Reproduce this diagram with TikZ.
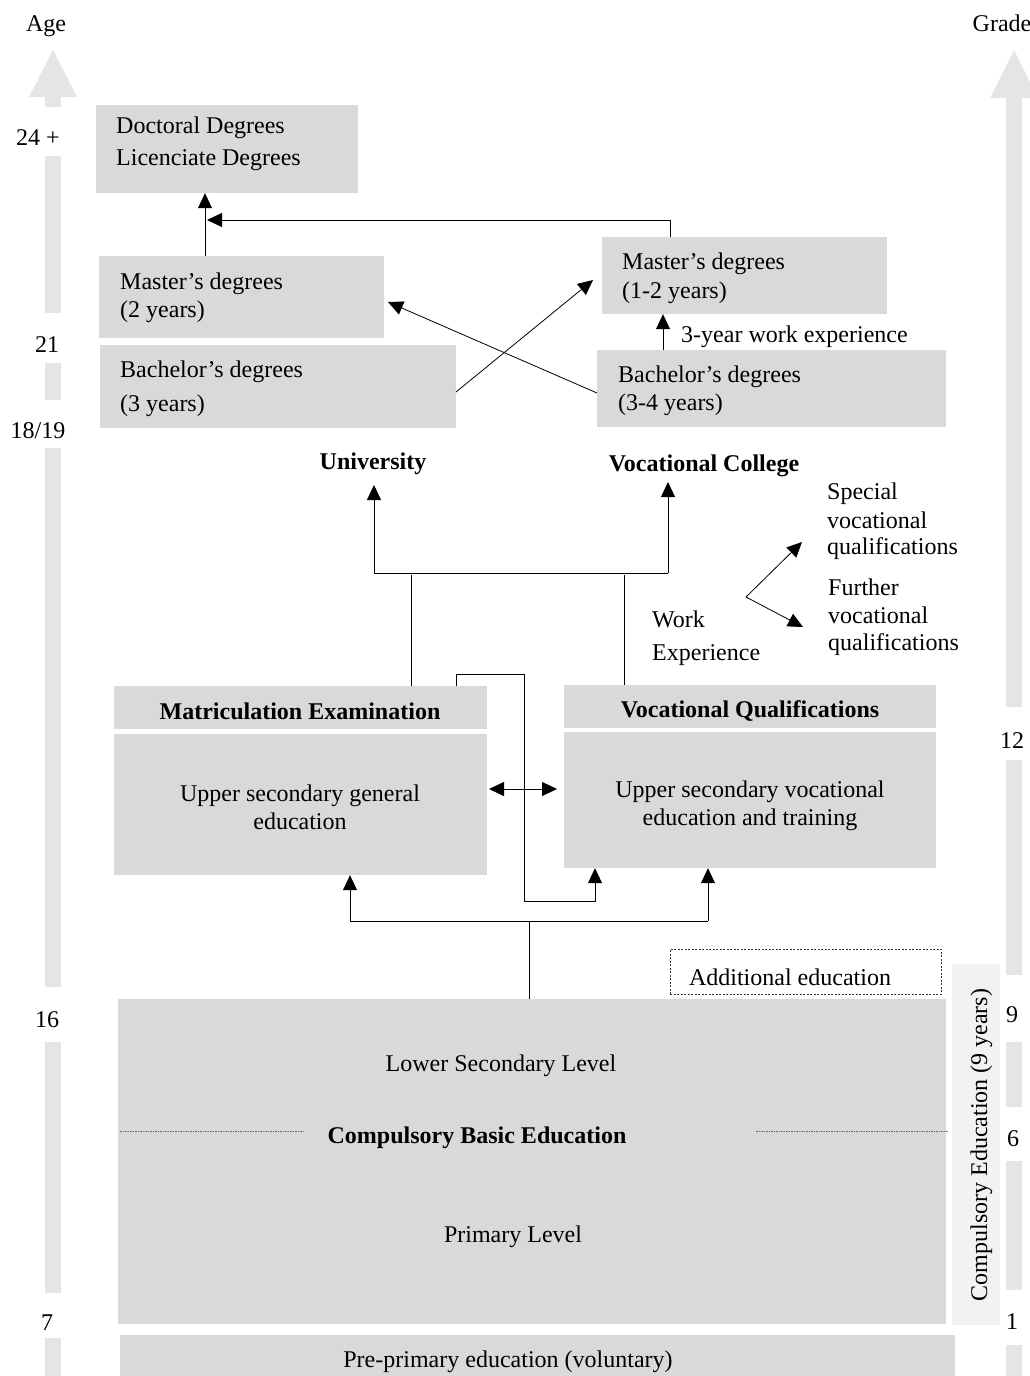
\documentclass[tikz,border=0pt]{standalone}
\usepackage{fontspec}
\setmainfont{Liberation Serif}
\usetikzlibrary{arrows.meta,calc}
\definecolor{boxgray}{HTML}{D9D9D9}
\definecolor{axisgray}{HTML}{E5E5E5}
\definecolor{palegray}{HTML}{F2F2F2}
\begin{document}
\begin{tikzpicture}[x=1pt,y=-1pt,
  every node/.style={font=\fontsize{24}{28}\selectfont, inner sep=0pt},
  gbox/.style={fill=boxgray, draw=none, rectangle},
  lbl/.style={anchor=base west},
  clbl/.style={anchor=base},
  bold/.style={font=\fontsize{24}{28}\selectfont\bfseries},
  conn/.style={draw=black, line width=0.8pt},
  arr/.style={conn, -{Triangle[length=15pt,width=14pt]}},
  arrtwo/.style={conn, {Triangle[length=15pt,width=14pt]}-{Triangle[length=15pt,width=14pt]}},
  axis/.style={fill=axisgray, draw=none}]
\useasboundingbox (0,0) rectangle (1030,1376);

% ---- age axis (left) ----
\fill[axis] (29,97) -- (53,50) -- (77,97) -- cycle;
\foreach \a/\b in {97/107,156/313,363/400,448/987,1042/1293,1338/1380}
  \fill[axis] (45,\a) rectangle (61,\b);
\node[clbl] (age) at (46,31) {Age};
\node[clbl] (a24) at (38,145) {24 +};
\node[clbl] (a21) at (47,352) {21};
\node[clbl] (a18) at (38,438) {18/19};
\node[clbl] (a16) at (47,1027) {16};
\node[clbl] (a7) at (47,1330) {7};

% ---- grade axis (right) ----
\fill[axis] (990,98) -- (1014,50) -- (1038,98) -- cycle;
\foreach \a/\b in {98/707,760/975,1042/1107,1161/1290,1345/1380}
  \fill[axis] (1006,\a) rectangle (1022,\b);
\node[clbl] (grade) at (1002,31) {Grade};
\node[clbl] (g12) at (1012,748) {12};
\node[clbl] (g9) at (1012,1022) {9};
\node[clbl] (g6) at (1013,1146) {6};
\node[clbl] (g1) at (1012,1329) {1};

% ---- higher education boxes ----
\node[gbox, minimum width=262pt, minimum height=88pt] (doct) at (227,149) {};
\node[lbl] (doctA) at (116,133) {Doctoral Degrees};
\node[lbl] (doctB) at (116,165) {Licenciate Degrees};

\node[gbox, minimum width=285pt, minimum height=82pt] (mastL) at (241.5,297) {};
\node[lbl] (mastLA) at (120,289) {Master’s degrees};
\node[lbl] (mastLB) at (120,317) {(2 years)};

\node[gbox, minimum width=356pt, minimum height=83pt] (bachL) at (278,386.5) {};
\node[lbl] (bachLA) at (120,377) {Bachelor’s degrees};
\node[lbl] (bachLB) at (120,411) {(3 years)};

\node[gbox, minimum width=285pt, minimum height=77pt] (mastR) at (744.5,275.5) {};
\node[lbl] (mastRA) at (622,269) {Master’s degrees};
\node[lbl] (mastRB) at (622,298) {(1-2 years)};

\node[gbox, minimum width=349pt, minimum height=77pt] (bachR) at (771.5,388.5) {};
\node[lbl] (bachRA) at (618,382) {Bachelor’s degrees};
\node[lbl] (bachRB) at (618,410) {(3-4 years)};

\node[lbl] (work3) at (681,342) {3-year work experience};

% ---- institutions ----
\node[clbl, bold] (univ) at (373,469) {University};
\node[clbl, bold] (vcol) at (704,471) {Vocational College};

\node[lbl] (workA) at (652,627) {Work};
\node[lbl] (workB) at (652,660) {Experience};
\node[lbl] (specA) at (827,499) {Special};
\node[lbl] (specB) at (827,528) {vocational};
\node[lbl] (specC) at (827,554) {qualifications};
\node[lbl] (furA) at (828,595) {Further};
\node[lbl] (furB) at (828,623) {vocational};
\node[lbl] (furC) at (828,650) {qualifications};

% ---- upper secondary ----
\node[gbox, minimum width=373pt, minimum height=43pt] (matH) at (300.5,707.5) {};
\node[clbl, bold] (matT) at (300,719) {Matriculation Examination};
\node[gbox, minimum width=373pt, minimum height=141pt] (genB) at (300.5,804.5) {};
\node[clbl] (genA) at (300,801) {Upper secondary general};
\node[clbl] (genC) at (300,829) {education};

\node[gbox, minimum width=372pt, minimum height=43pt] (vocH) at (750,706.5) {};
\node[clbl, bold] (vocT) at (750,717) {Vocational Qualifications};
\node[gbox, minimum width=372pt, minimum height=136pt] (vocB) at (750,800) {};
\node[clbl] (vocA) at (750,797) {Upper secondary vocational};
\node[clbl] (vocC) at (750,825) {education and training};

% ---- additional education ----
\node[draw=black!80, line width=0.6pt, dash pattern=on 2pt off 1.5pt,
      minimum width=271pt, minimum height=45pt] (addl) at (805.5,971.5) {};
\node[clbl] (addT) at (790,985) {Additional education};

% ---- basic education ----
\node[gbox, minimum width=828pt, minimum height=325pt] (basic) at (532,1161.5) {};
\node[clbl] (lower) at (501,1071) {Lower Secondary Level};
\node[clbl, bold] (cbe) at (477,1143) {Compulsory Basic Education};
\node[clbl] (prim) at (513,1242) {Primary Level};
\draw[black!60, line width=0.6pt, dash pattern=on 1.5pt off 1pt] (120,1131) -- (305,1131);
\draw[black!60, line width=0.6pt, dash pattern=on 1.5pt off 1pt] (756,1131) -- (948,1131);

\node[fill=palegray, minimum width=48pt, minimum height=361pt] (compE) at (976,1144.5) {};
\node[anchor=base, rotate=90] (compT) at (987,1145) {Compulsory Education (9 years)};

\node[gbox, minimum width=835pt, minimum height=45pt] (prepr) at (537.5,1357.5) {};
\node[clbl] (preT) at (508,1367) {Pre-primary education (voluntary)};

% ---- connector points ----
\coordinate (x205) at (205,0);
\coordinate (x670) at (670,0);
\coordinate (x663) at (663,0);
\coordinate (j1) at (207,220);
\coordinate (tipMR) at (593,280);
\coordinate (tipML) at (388,302);
\coordinate (sL) at (456,392);
\coordinate (sR) at (597,393);
\coordinate (hl) at (374,573);
\coordinate (hr) at (668,573);
\coordinate (tU) at (374,485);
\coordinate (tV) at (668,482);
\coordinate (a411) at (411,575);
\coordinate (a624) at (624,575);
\coordinate (we) at (746,597);
\coordinate (tS) at (802,542);
\coordinate (tF) at (803,627);
\coordinate (m1) at (456,674);
\coordinate (m2) at (524,901);
\coordinate (m3) at (595,0);
\coordinate (dL) at (489,789);
\coordinate (dR) at (557,789);
\coordinate (bt) at (529,921);
\coordinate (bl) at (350,921);
\coordinate (br) at (708,921);

% ---- connectors ----
\draw[arr] (mastL.north -| x205) -- (doct.south -| x205);
\draw[arr] (mastR.north -| x670) |- (j1);
\draw[arr] (bachR.north -| x663) -- (mastR.south -| x663);
\draw[arr] (sL) -- (tipMR);
\draw[arr] (sR) -- (tipML);

\draw[conn] (hl) -- (hr);
\draw[arr] (hl) -- (tU);
\draw[arr] (hr) -- (tV);
\draw[conn] (matH.north -| a411) -- (a411);
\draw[conn] (vocH.north -| a624) -- (a624);

\draw[arr] (we) -- (tS);
\draw[arr] (we) -- (tF);

\draw[arr] (matH.north -| m1) -- (m1) -| (m2) -| (vocB.south -| m3);
\draw[arrtwo] (dL) -- (dR);

\draw[conn] (basic.north -| bt) -- (bt);
\draw[conn] (bl) -- (br);
\draw[arr] (bl) -- (genB.south -| bl);
\draw[arr] (br) -- (vocB.south -| br);
\end{tikzpicture}
\end{document}
